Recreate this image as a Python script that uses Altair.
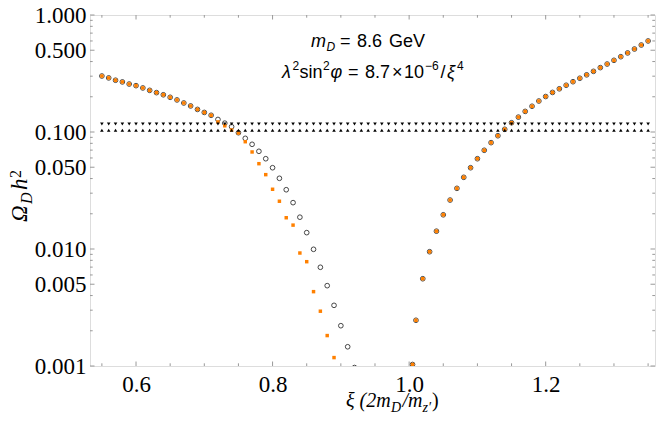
import altair as alt
import pandas as pd

# ---- data ----
xi_left = [0.55, 0.56, 0.57, 0.58, 0.59, 0.60, 0.61, 0.62, 0.63, 0.64, 0.65, 0.66,
           0.67, 0.68, 0.69, 0.70, 0.71]
omega_left = [0.301, 0.290, 0.277, 0.268, 0.257, 0.249, 0.238, 0.227, 0.217, 0.208,
              0.198, 0.188, 0.177, 0.167, 0.156, 0.147, 0.139]

xi_open_dip = [0.72, 0.73, 0.74, 0.75, 0.76, 0.77, 0.78, 0.79, 0.80, 0.81, 0.82,
               0.83, 0.84, 0.85, 0.86, 0.87, 0.88, 0.89, 0.90, 0.91, 0.92]
omega_open_dip = [0.128, 0.119, 0.111, 0.0986, 0.0883, 0.0785, 0.0684, 0.0591, 0.0495,
                  0.0402, 0.0321, 0.0249, 0.0187, 0.0138, 0.00994, 0.00698, 0.00486,
                  0.00330, 0.00221, 0.00146, 0.00097]

xi_orange_dip = [0.72, 0.73, 0.74, 0.75, 0.76, 0.77, 0.78, 0.79, 0.80, 0.81, 0.82,
                 0.83, 0.84, 0.85, 0.86, 0.87, 0.88, 0.89]
omega_orange_dip = [0.122, 0.113, 0.104, 0.098, 0.0826, 0.0675, 0.0536, 0.0432, 0.0324,
                    0.0256, 0.0185, 0.0160, 0.00924, 0.00779, 0.00432, 0.00294,
                    0.00182, 0.00118]

xi_right = [1.005, 1.01, 1.02, 1.03, 1.04, 1.05, 1.06, 1.07, 1.08, 1.09, 1.10, 1.11,
            1.12, 1.13, 1.14, 1.15, 1.16, 1.17, 1.18, 1.19, 1.20, 1.21, 1.22, 1.23,
            1.24, 1.25, 1.26, 1.27, 1.28, 1.29, 1.30, 1.31, 1.32, 1.33, 1.34, 1.35]
omega_right = [0.00103, 0.00246, 0.00557, 0.00948, 0.0142, 0.0196, 0.0262, 0.0330,
               0.0410, 0.0495, 0.0591, 0.0698, 0.0811, 0.0929, 0.1055, 0.120, 0.134,
               0.150, 0.166, 0.184, 0.201, 0.218, 0.234, 0.251, 0.269, 0.288, 0.308,
               0.330, 0.355, 0.381, 0.410, 0.440, 0.474, 0.512, 0.554, 0.600]

band_xi = [round(0.55 + 0.01 * i, 2) for i in range(81)]
band_upper = 0.117
band_lower = 0.1035

x_major = [0.6, 0.8, 1.0, 1.2]
x_minor = [0.55, 0.65, 0.7, 0.75, 0.85, 0.9, 0.95, 1.05, 1.1, 1.15, 1.25, 1.3, 1.35]
y_major = [0.001, 0.005, 0.01, 0.05, 0.1, 0.5, 1.0]
y_minor = [0.002, 0.003, 0.004, 0.006, 0.007, 0.008, 0.009,
           0.02, 0.03, 0.04, 0.06, 0.07, 0.08, 0.09,
           0.2, 0.3, 0.4, 0.6, 0.7, 0.8, 0.9]

# ---- layout ----
W, H = 565, 351
FRAME = "#999999"
ORANGE = "#ff8000"

xscale = alt.Scale(domain=[0.5326, 1.3601], nice=False, zero=False)
yscale = alt.Scale(type="log", domain=[0.001, 1.0], nice=False)

open_df = pd.DataFrame({"xi": xi_left + xi_open_dip + xi_right,
                        "omega": omega_left + omega_open_dip + omega_right})
orange_df = pd.DataFrame({"xi": xi_left + xi_orange_dip + xi_right,
                          "omega": omega_left + omega_orange_dip + omega_right})
band_df = pd.DataFrame({"xi": band_xi * 2,
                        "omega": [band_upper] * len(band_xi) + [band_lower] * len(band_xi),
                        "which": ["up"] * len(band_xi) + ["low"] * len(band_xi)})

serif = "Liberation Serif"
sans = "Liberation Sans"

x_axis = alt.Axis(values=x_major, format=".1f", ticks=False, domain=False, grid=False,
                  labelFont=serif, labelFontSize=23, labelColor="black", labelPadding=7,
                  title=None, labelFlush=False, labelOverlap=False)
y_axis = alt.Axis(values=y_major, format=".3f", ticks=False, domain=False, grid=False,
                  labelFont=serif, labelFontSize=23, labelColor="black", labelPadding=4,
                  title=None, labelOverlap=False)


def X(field):
    return alt.X(field, type="quantitative", scale=xscale, axis=x_axis)


def Y(field):
    return alt.Y(field, type="quantitative", scale=yscale, axis=y_axis)


open_pts = alt.Chart(open_df).mark_point(
    shape="circle", filled=False, stroke="#333333", strokeWidth=0.9, size=22,
    opacity=1, clip=True
).encode(x=X("xi"), y=Y("omega"))

orange_pts = alt.Chart(orange_df).mark_square(
    color=ORANGE, size=12, opacity=1, clip=True
).encode(x=X("xi"), y=Y("omega"))

tri_down = alt.Chart(band_df).transform_filter(alt.datum.which == "up").mark_point(
    shape="triangle-down", filled=True, color="black", size=13, opacity=1
).encode(x=X("xi"), y=Y("omega"))
tri_up = alt.Chart(band_df).transform_filter(alt.datum.which == "low").mark_point(
    shape="triangle-up", filled=True, color="black", size=13, opacity=1
).encode(x=X("xi"), y=Y("omega"))


def xticks(vals, length):
    df = pd.DataFrame({"xi": vals})
    base = alt.Chart(df).mark_rule(color=FRAME, strokeWidth=1)
    bottom = base.encode(x=X("xi"), y=alt.value(H), y2=alt.value(H - length))
    top = base.encode(x=X("xi"), y=alt.value(0), y2=alt.value(length))
    return [bottom, top]


def yticks(vals, length):
    df = pd.DataFrame({"omega": vals})
    base = alt.Chart(df).mark_rule(color=FRAME, strokeWidth=1)
    left = base.encode(y=Y("omega"), x=alt.value(0), x2=alt.value(length))
    right = base.encode(y=Y("omega"), x=alt.value(W), x2=alt.value(W - length))
    return [left, right]


one = pd.DataFrame({"a": [0]})


def label(t, px, py, size, style="normal", font=sans, angle=0):
    return alt.Chart(one).mark_text(
        text=t, font=font, fontSize=size, fontStyle=style, align="left",
        baseline="alphabetic", angle=angle, color="black"
    ).encode(x=alt.value(px), y=alt.value(py))


L1, L2 = 32, 62.5
XT = 392
texts = [
    # annotation line 1: m_D = 8.6 GeV
    label("m", 221, L1, 18, "italic"),
    label("D", 236.5, L1 + 4, 12, "italic"),
    label("=", 250, L1, 18),
    label("8.6", 267, L1, 18),
    label("GeV", 299, L1, 18),
    # annotation line 2: lambda^2 sin^2 phi = 8.7x10^-6 / xi^4
    label("λ", 192, L2, 18, "italic"),
    label("2", 202.5, L2 - 8, 12),
    label("sin", 209.5, L2, 18),
    label("2", 233, L2 - 8, 12),
    label("φ", 240.5, L2, 18, "italic"),
    label("=", 258, L2, 18),
    label("8.7", 275, L2, 18),
    label("×", 302, L2, 18),
    label("10", 314, L2, 18),
    label("−6", 335, L2 - 8, 12),
    label("/", 350.5, L2, 18),
    label("ξ", 357, L2, 18, "italic"),
    label("4", 367, L2 - 8, 12),
    # x title
    label("ξ (2m", 256, XT, 20, "italic", serif),
    label("D", 301, XT + 5, 14, "italic", serif),
    label("/m", 312.5, XT, 20, "italic", serif),
    label("z′", 332.5, XT + 5, 14, "italic", serif),
    label(")", 342, XT, 20, "normal", serif),
    # y title (rotated)
    label("Ω", -63, 207, 23, "italic", serif, 270),
    label("D", -58, 189, 16, "italic", serif, 270),
    label("h", -63, 175, 23, "italic", serif, 270),
    label("2", -69, 163, 16, "normal", serif, 270),
]

layers = ([open_pts, orange_pts, tri_down, tri_up]
          + xticks(x_major, 4.5) + xticks(x_minor, 2.7)
          + yticks(y_major, 4.5) + yticks(y_minor, 2.7)
          + texts)

chart = alt.layer(*layers).properties(
    width=W, height=H,
    padding={"left": 82, "top": 7, "right": 1, "bottom": 55},
    autosize=alt.AutoSizeParams(type="none"),
).configure_view(stroke=FRAME, strokeWidth=1).configure(background="white")

chart.save("out.html", embed_options={"renderer": "svg", "actions": False})
